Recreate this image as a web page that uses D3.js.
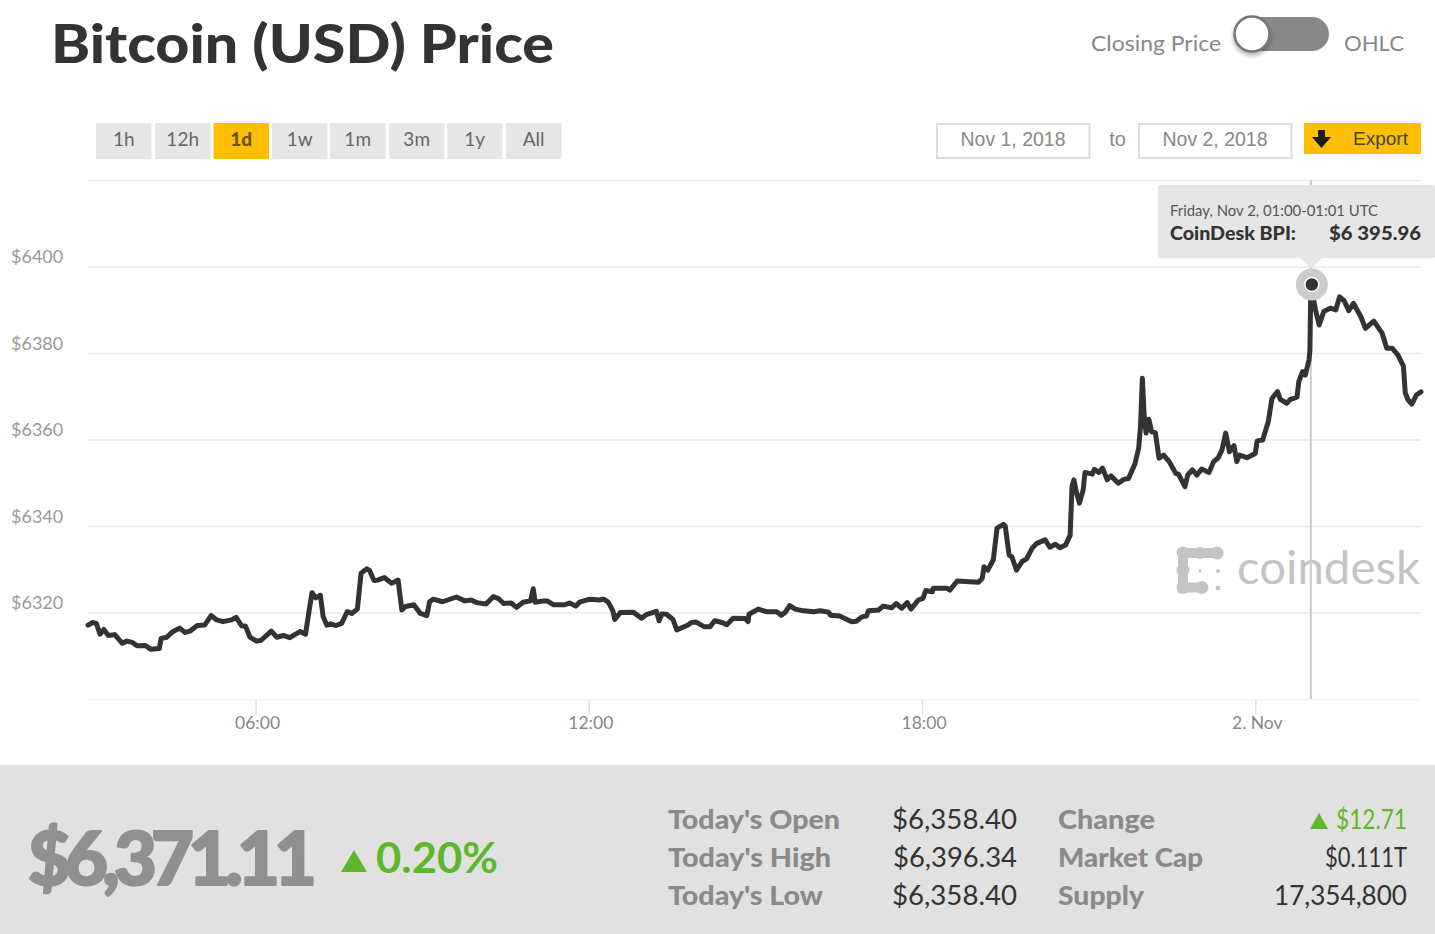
<!DOCTYPE html>
<html>
<head>
<meta charset="utf-8">
<title>Bitcoin (USD) Price</title>
<script src="https://cdn.jsdelivr.net/npm/d3@7"></script>
<style>
  html, body { margin: 0; padding: 0; background: #fff; overflow: hidden; }
  svg { display: block; font-family: Lato, "Open Sans", sans-serif; }
</style>
</head>
<body>
<svg id="chart" width="1435" height="934"></svg>
<script>
// minutes after Nov 1 2018 00:00 UTC
const minutes = [179,184,188,192,196,201,208,216,221,227,232,241,247,256,258,264,270,278,284,289,
  297,305,312,318,325,334,339,345,349,354,361,366,377,383,390,397,408,414,418,421,
  425,430,433,437,441,447,453,459,464,470,474,480,483,488,492,499,507,514,518,522,
  531,538,545,548,552,562,577,586,593,599,609,617,622,628,636,642,649,657,660,662,
  671,675,682,694,699,706,710,721,732,736,741,746,748,754,768,777,782,793,796,799,
  804,811,815,826,831,836,845,851,856,864,869,876,889,892,893,903,912,923,928,932,
  937,943,952,963,970,979,981,991,1000,1004,1009,1015,1020,1022,1033,1038,1047,1052,1058,1064,
  1068,1076,1081,1084,1091,1092,1107,1110,1118,1141,1145,1147,1151,1157,1161,1168,1170,1174,1177,1182,
  1188,1193,1199,1204,1213,1218,1224,1229,1235,1240,1242,1244,1247,1250,1254,1256,1264,1266,1271,1275,
  1280,1284,1292,1298,1303,1310,1314,1316,1318,1320,1322,1325,1328,1332,1336,1341,1347,1354,1357,1364,
  1367,1372,1377,1382,1390,1395,1400,1404,1408,1412,1417,1420,1423,1431,1440,1442,1448,1454,1458,1464,
  1467,1474,1478,1485,1487,1491,1494,1498,1499,1500,1505,1509,1514,1521,1527,1531,1536,1541,1546,1554,
  1559,1568,1577,1582,1588,1594,1600,1602,1605,1609,1614,1619];

const prices = [6317.2,6317.8,6317.6,6315.1,6316.2,6314.8,6315.0,6313.0,6313.5,6313.2,6312.4,6312.5,6311.6,6311.8,6314.1,6314.4,6315.6,6316.5,6315.5,6315.8,
  6317.1,6317.2,6319.4,6318.4,6318.0,6318.4,6319.0,6317.0,6317.0,6314.4,6313.5,6313.7,6315.8,6314.4,6314.8,6314.3,6315.7,6315.1,6320.7,6324.7,
  6323.5,6324.1,6319.2,6317.2,6317.5,6317.1,6317.6,6320.3,6319.9,6320.9,6329.2,6330.2,6329.9,6327.5,6327.6,6328.2,6326.9,6327.6,6320.7,6321.5,
  6321.9,6319.9,6319.4,6322.6,6323.2,6322.6,6323.7,6322.8,6323.0,6322.4,6322.1,6323.8,6323.4,6322.2,6322.3,6321.3,6322.5,6322.8,6325.6,6322.5,
  6322.8,6322.8,6321.9,6321.9,6322.3,6321.6,6322.5,6323.2,6323.0,6323.2,6322.5,6320.5,6318.5,6320.1,6320.2,6318.8,6319.6,6320.4,6318.2,6319.8,
  6319.7,6318.5,6316.1,6317.1,6317.8,6317.9,6316.8,6316.8,6318.2,6317.8,6317.3,6318.8,6318.7,6318.0,6319.7,6320.9,6320.3,6320.3,6319.5,6320.1,
  6321.7,6320.9,6320.5,6320.3,6320.5,6320.2,6319.5,6319.3,6318.4,6318.0,6318.1,6319.1,6319.3,6320.5,6320.7,6321.6,6321.2,6322.2,6321.1,6322.4,
  6320.9,6323.0,6323.4,6325.2,6324.9,6325.7,6325.7,6325.3,6327.4,6327.1,6328.0,6330.7,6329.9,6332.3,6339.6,6340.5,6340.0,6333.4,6333.0,6329.9,
  6331.9,6332.5,6335.0,6336.1,6336.9,6335.2,6335.9,6335.1,6335.7,6338.0,6349.2,6350.8,6347.7,6345.4,6348.4,6352.5,6352.1,6353.2,6352.5,6353.5,
  6350.8,6351.7,6350.0,6350.9,6351.1,6354.5,6358.1,6363.1,6374.3,6365.4,6361.6,6364.8,6361.9,6361.7,6355.8,6356.5,6355.0,6352.3,6352.1,6349.2,
  6351.9,6353.1,6351.9,6353.3,6352.5,6355.0,6355.9,6357.7,6361.6,6357.3,6358.7,6355.0,6356.5,6355.9,6356.9,6359.8,6360.0,6364.2,6369.6,6371.2,
  6369.4,6368.5,6369.4,6369.9,6373.5,6375.8,6375.0,6378.5,6380.8,6395.96,6390.1,6386.6,6389.7,6390.5,6390.1,6393.1,6392.2,6389.9,6391.6,6388.5,
  6385.8,6387.5,6384.7,6381.2,6381.2,6379.7,6377.1,6370.9,6369.3,6368.3,6370.4,6371.11];

const priceTicks = [6300, 6320, 6340, 6360, 6380, 6400, 6420];
const labelledPrices = [6320, 6340, 6360, 6380, 6400];
const timeTickHours = [6, 12, 18, 24];
const timeTickLabels = ['06:00', '12:00', '18:00', '2. Nov'];
const ranges = ['1h', '12h', '1d', '1w', '1m', '3m', '1y', 'All'];
const rangeLeft = [96, 155, 213.5, 272, 330, 389, 447, 506];
const statNames = ["Today's Open", "Today's High", "Today's Low"];
const statValues = ['$6,358.40', '$6,396.34', '$6,358.40'];
const marketNames = ['Change', 'Market Cap', 'Supply'];
const marketValues = ['$12.71', '$0.111T', '17,354,800'];

const day = m => new Date(Date.UTC(2018, 10, 1, 0, m));
const dates = minutes.map(day);

const svg = d3.select('#chart');
const left = 88, right = 1421;

const x = d3.scaleUtc().domain([day(179), day(1619)]).range([left, right]);
const y = d3.scaleLinear().domain([6300, 6420]).range([699.5, 180.5]);

// text with a fixed painted width, so that the substitute font keeps the original's extents
function label(parent, px, py, str, o = {}) {
  const t = parent.append('text')
    .attr('x', px).attr('y', py)
    .attr('font-size', o.size || 18)
    .attr('font-weight', o.weight || 400)
    .attr('fill', o.fill || '#888')
    .attr('text-anchor', o.anchor || 'start')
    .attr('font-family', o.family || null)
    .text(str);
  if (o.width) t.attr('textLength', o.width).attr('lengthAdjust', o.adjust || 'spacingAndGlyphs');
  return t;
}

// header
label(svg, 51, 63, 'Bitcoin (USD) Price', { size: 54, weight: 900, fill: '#333', width: 503 });
label(svg, 1091, 51, 'Closing Price', { size: 21, fill: '#888', width: 130 });
label(svg, 1344, 51, 'OHLC', { size: 21, fill: '#888', width: 60 });

const defs = svg.append('defs');
const shadow = defs.append('filter').attr('id', 'knob').attr('x', '-30%').attr('y', '-30%').attr('width', '160%').attr('height', '170%');
shadow.append('feDropShadow').attr('dx', 0).attr('dy', 3).attr('stdDeviation', 2).attr('flood-color', '#000').attr('flood-opacity', 0.3);

svg.append('rect').attr('x', 1235).attr('y', 17).attr('width', 94).attr('height', 34).attr('rx', 17).attr('fill', '#888');
svg.append('circle').attr('cx', 1252).attr('cy', 34).attr('r', 17.5)
  .attr('fill', '#fff').attr('stroke', '#777').attr('stroke-width', 2.5).attr('filter', 'url(#knob)');

// range buttons
const buttons = svg.append('g').selectAll('g').data(ranges).join('g')
  .attr('transform', (d, i) => `translate(${rangeLeft[i]},123)`);
buttons.append('rect').attr('width', 55.5).attr('height', 36)
  .attr('fill', d => d === '1d' ? '#fdbf00' : '#e6e6e6');
buttons.append('text').attr('x', 27.7).attr('y', 23).attr('text-anchor', 'middle')
  .attr('font-size', 19)
  .attr('font-weight', d => d === '1d' ? 900 : 400)
  .attr('fill', d => d === '1d' ? '#6a5218' : '#666')
  .text(d => d);

// date pickers and export
const pickers = [[937, 'Nov 1, 2018'], [1139, 'Nov 2, 2018']];
pickers.forEach(([px, str]) => {
  svg.append('rect').attr('x', px).attr('y', 124).attr('width', 152.5).attr('height', 34)
    .attr('fill', '#fff').attr('stroke', '#ddd').attr('stroke-width', 2);
  label(svg, px + 76, 146, str, { size: 20, fill: '#888', anchor: 'middle', width: 105, family: '"Liberation Sans", sans-serif' });
});
label(svg, 1117.5, 146, 'to', { size: 20, fill: '#888', anchor: 'middle', family: '"Liberation Sans", sans-serif' });
svg.append('rect').attr('x', 1304).attr('y', 123).attr('width', 117).attr('height', 31).attr('fill', '#fdbf00');
svg.append('path').attr('d', 'M1318,130h7v7h6l-9.5,11l-9.5,-11h6z').attr('fill', '#1c1c1c');
label(svg, 1353, 145, 'Export', { size: 19, fill: '#444', width: 55, family: '"Liberation Sans", sans-serif' });

// watermark
const mark = svg.append('g').attr('fill', '#c4c4c4');
mark.append('path')
  .attr('d', 'M1202,587.5H1183V553H1217')
  .attr('fill', 'none').attr('stroke', '#c4c4c4').attr('stroke-width', 10).attr('stroke-linecap', 'round');
[[1183, 553, 6.5], [1217, 553, 6.5], [1183, 570, 6.5], [1183, 587.5, 6.5], [1202, 587.5, 6.5], [1200, 553, 6]].forEach(c =>
  mark.append('circle').attr('cx', c[0]).attr('cy', c[1]).attr('r', c[2]));
[[1200, 571, 1.6], [1218, 571, 2], [1218, 588, 2.4]].forEach(c =>
  mark.append('circle').attr('cx', c[0]).attr('cy', c[1]).attr('r', c[2]));
label(svg, 1237, 584, 'coindesk', { size: 47, fill: '#c4c4c4', width: 183 });

// axes
const yAxis = svg.append('g').attr('transform', `translate(${left},0)`)
  .call(d3.axisLeft(y).offset(0).tickValues(priceTicks).tickSize(-(right - left))
    .tickFormat(d => labelledPrices.includes(d) ? '$' + d : ''));
yAxis.attr('font-family', null);
yAxis.select('.domain').remove();
yAxis.selectAll('.tick line').attr('stroke', d => d === 6300 ? '#f6f6f6' : '#e9e9e9').attr('stroke-width', 1.5);
yAxis.selectAll('.tick text')
  .attr('x', -77).attr('dy', 0).attr('y', -4)
  .attr('text-anchor', 'start')
  .attr('font-size', 18).attr('fill', '#999');

const xAxis = svg.append('g').attr('transform', 'translate(0,700)')
  .call(d3.axisBottom(x)
    .tickValues(timeTickHours.map(h => day(h * 60)))
    .tickSize(14).tickPadding(3)
    .tickFormat((d, i) => timeTickLabels[i]));
xAxis.attr('font-family', null);
xAxis.select('.domain').remove();
xAxis.selectAll('.tick line').attr('stroke', '#dde0e8').attr('stroke-width', 1.5);
xAxis.selectAll('.tick text').attr('x', 1.5).attr('font-size', 17.5).attr('fill', '#888');

// crosshair under the line, at the hovered minute
const hoverIndex = prices.indexOf(6395.96);
const hx = x(dates[hoverIndex]), hy = y(prices[hoverIndex]);
svg.append('line').attr('x1', hx).attr('x2', hx).attr('y1', 180).attr('y2', 699)
  .attr('stroke', '#ccc').attr('stroke-width', 2);

svg.append('path').datum(prices)
  .attr('fill', 'none').attr('stroke', '#333').attr('stroke-width', 5)
  .attr('stroke-linejoin', 'round').attr('stroke-linecap', 'round')
  .attr('d', d3.line().x((d, i) => x(dates[i])).y(d => y(d)));

// hover marker and tooltip
svg.append('circle').attr('cx', hx + 1).attr('cy', hy).attr('r', 16).attr('fill', '#ccc');
svg.append('circle').attr('cx', hx + 1).attr('cy', hy).attr('r', 7)
  .attr('fill', '#333').attr('stroke', '#fff').attr('stroke-width', 1.5);
svg.append('rect').attr('x', 1158).attr('y', 185).attr('width', 277).attr('height', 73).attr('rx', 2).attr('fill', '#e6e6e6');
svg.append('path').attr('d', `M${hx - 11},258L${hx},268L${hx + 11},258Z`).attr('fill', '#e6e6e6');
label(svg, 1170, 216, 'Friday, Nov 2, 01:00-01:01 UTC', { size: 15, fill: '#555', width: 208 });
label(svg, 1170, 240, 'CoinDesk BPI:', { size: 18, weight: 900, fill: '#333', width: 126 });
label(svg, 1329, 240, '$6 395.96', { size: 18, weight: 900, fill: '#333', width: 92 });

// bottom panel
svg.append('rect').attr('x', 0).attr('y', 765).attr('width', 1435).attr('height', 169).attr('fill', '#e1e1e1');
label(svg, 28, 885, '$6,371.11', { size: 74, weight: 900, fill: '#909090', width: 289, adjust: 'spacing' })
  .attr('stroke', '#909090').attr('stroke-width', 2.2).attr('stroke-linejoin', 'round');
svg.append('path').attr('d', 'M341,872L354,850L367,872Z').attr('fill', '#5cb82a');
label(svg, 376, 873, '0.20%', { size: 42, weight: 700, fill: '#5cb82a', width: 122 });

const rowY = [829, 867, 905];
const statWidths = [172, 163, 155];
const marketWidths = [97, 145, 86];
const statValueWidths = [125, 124, 125];
const marketValueWidths = [71, 82, 133];
statNames.forEach((s, i) => {
  label(svg, 668, rowY[i], s, { size: 27, weight: 900, fill: '#8a8a8a', width: statWidths[i] });
  label(svg, 1017 - statValueWidths[i], rowY[i], statValues[i], { size: 27, fill: '#333', width: statValueWidths[i] });
  label(svg, 1058, rowY[i], marketNames[i], { size: 27, weight: 900, fill: '#8a8a8a', width: marketWidths[i] });
  label(svg, 1407 - marketValueWidths[i], rowY[i], marketValues[i], { size: 27, fill: i === 0 ? '#5cb82a' : '#333', width: marketValueWidths[i] });
});
svg.append('path').attr('d', 'M1310,829L1319,813L1328,829Z').attr('fill', '#5cb82a');
</script>
</body>
</html>
